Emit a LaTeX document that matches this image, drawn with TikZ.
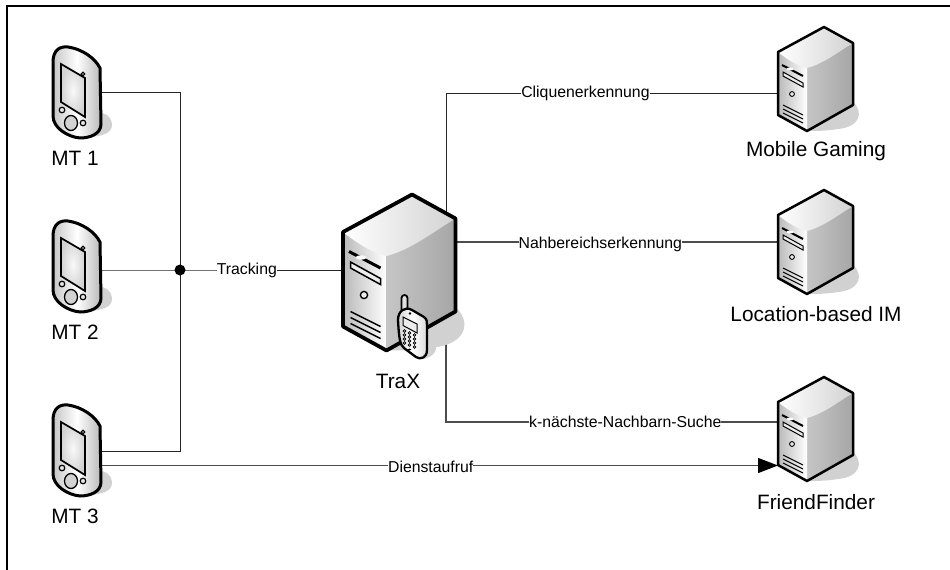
\documentclass[tikz,border=0pt]{standalone}
\usepackage{fontspec}
\setmainfont{Liberation Sans}
\usetikzlibrary{arrows.meta}
\definecolor{shad}{gray}{0.82}
\definecolor{wirec}{gray}{0.3}
\tikzset{
  x=1pt,y=-1pt,
  wire/.style={draw=wirec,line width=1.2pt},
  buswire/.style={draw=black!85,line width=.9pt},
  nmlab/.style={font=\fontsize{20.8}{24}\selectfont,inner sep=0pt},
  edgelab/.style={fill=white,font=\fontsize{15.8}{18}\selectfont,inner sep=0pt},
}
% #1 x, #2 y, #3 scale
\newcommand{\srv}[3]{%
\begin{scope}[shift={(#1,#2)},x=#3pt,y=-#3pt]
  \fill[shad] (40,70) .. controls (60,62) and (72,50) .. (75,50) .. controls (86,60) and (82,75) .. (60,77) .. controls (48,79) and (38,79) .. (29,79) -- cycle;
  \shade[left color=gray!45,middle color=white,right color=gray!70] (29,16) -- (75,-9) -- (75,53) -- (29,79) -- cycle;
  \shade[left color=gray!55,right color=white] (0,0) -- (29,16) -- (29,79) -- (0,63) -- cycle;
  \shade[left color=white,right color=gray!35] (0,0) -- (46,-25) -- (75,-9) .. controls (60,0) and (45,12) .. (29,16) .. controls (20,14) and (10,8) .. (0,0) -- cycle;
  \draw[line width=#3*2.5pt,line join=round] (0,0) -- (46,-25) -- (75,-9) -- (75,53) -- (29,79) -- (0,63) -- cycle;
  \draw[line width=#3*2pt] (4,13) -- (25,24);
  \fill[white] (12,17) ellipse (3.5 and 1.5);
  \draw[line width=#3*1pt,fill=gray!15] (5,20) -- (25,31) -- (25,35) -- (5,24) -- cycle;
  \draw[line width=#3*.9pt,fill=gray!15] (14,42) circle (2.4);
  \foreach \d in {0,4,8}{\draw[line width=#3*1pt] (5,53+\d) -- (25,63+\d);}
\end{scope}}
\newcommand{\pda}[2]{%
\begin{scope}[shift={(#1,#2)}]
  \fill[shad] (90,116) .. controls (105,108) and (112,118) .. (112,125) .. controls (112,134) and (100,137) .. (85,137) -- cycle;
  \shade[left color=gray!45,right color=gray!55,middle color=white,draw=black,line width=3pt,line join=round]
    (53,62) .. controls (53,50) and (60,46) .. (68,47) .. controls (82,49) and (95,58) .. (100,68)
    -- (101,124) .. controls (101,134) and (90,138) .. (80,138) .. controls (68,137) and (53,128) .. (53,116) -- cycle;
  \shade[inner color=gray!5,outer color=gray!35,draw=black,line width=1.7pt] (61,64) -- (85,78) -- (85,117) -- (61,102) -- cycle;
  \draw[fill=gray!50,line width=1pt] (83,74) circle (1.8);
  \draw[fill=gray!20,line width=1.2pt] (62,110) circle (2.8);
  \draw[fill=gray!20,line width=1.2pt] (83,123) circle (2.8);
  \draw[fill=gray!35,line width=1.3pt] (71,123) ellipse (6.5 and 7.5);
\end{scope}}
\begin{document}
\begin{tikzpicture}
\useasboundingbox (0,0) rectangle (950,570);
\fill[white] (0,0) rectangle (950,570);
\draw[black,line width=2.4pt] (7,570) -- (7,6) -- (950,6);
\coordinate (mt1e) at (101,92);
\coordinate (mt2e) at (101,270);
\coordinate (mt3e) at (101,451);
\coordinate (bus1) at (180,92);
\coordinate (bus3) at (180,451);
\coordinate (bus) at (180,270);
\coordinate (traxw) at (343,270);
\coordinate (traxe) at (455,242);
\coordinate (up) at (446,222);
\coordinate (upc) at (446,93);
\coordinate (dn) at (446,320);
\coordinate (dnc) at (446,422);
\coordinate (mgw) at (778,93);
\coordinate (lbw) at (778,242);
\coordinate (ffw) at (778,422);
\coordinate (mt3b) at (101,465.5);
\coordinate (ffb) at (778,465.5);
\draw[buswire] (mt1e) -- (bus1) -- (bus3) -- (mt3e);
\draw[buswire] (mt2e) -- (bus) -- (traxw);
\path (bus) -- (traxw) node[edgelab,pos=.41] (t1) {Tracking};
\node[circle,fill=black,minimum size=11pt,inner sep=0pt] (busdot) at (bus) {};
\draw[buswire] (up) -- (upc) -- (mgw) node[edgelab,pos=.42] (t2) {Cliquenerkennung};
\draw[wire] (traxe) -- (lbw) node[edgelab,pos=.45,yshift=-2pt] (t3) {Nahbereichserkennung};
\draw[wire] (dn) -- (dnc) -- (ffw) node[edgelab,pos=.54] (t4) {k-nächste-Nachbarn-Suche};
\draw[wire,-{Triangle[length=20pt,width=15pt,color=black,fill=black]}] (mt3b) -- (ffb) node[edgelab,pos=.487,yshift=-1pt] (t5) {Dienstaufruf};
\pda{0}{0}
\pda{0}{174}
\pda{0}{358}
\srv{343}{232}{1.5}
\srv{778}{52}{1}
\srv{778}{215}{1}
\srv{778}{402}{1}
\begin{scope}[shift={(320,170)}]
  \fill[shad] (100,180) -- (116,175) .. controls (118,183) and (108,190) .. (100,189) -- cycle;
  \draw[fill=gray!25,line width=1.8pt,line join=round] (81.5,140) -- (81.5,128) arc (180:360:3) -- (87.5,142) -- cycle;
  \shade[left color=gray!35,right color=gray!30,middle color=white,draw=black,line width=2.3pt,line join=round]
    (78,150) .. controls (78,141) and (85,136) .. (92,140) -- (104,147) .. controls (107,149) and (107,152) .. (107,155)
    -- (107,180) .. controls (107,188) and (100,190) .. (96,187) -- (84,178) .. controls (80,175) and (79,168) .. (78,150) -- cycle;
  \fill (90,143.5) circle (1.3);
  \draw[fill=gray!15,line width=1pt] (83,147) -- (97,154) -- (97,163) -- (83,155.5) -- cycle;
  \foreach \c in {0,1,2}{\foreach \r in {0,1,2,3}{
    \draw[line width=.7pt,fill=gray!20] (84.5+5*\c,161+4*\r+2*\c) circle (1.4);}}
  \fill (89.5,179.5) ellipse (1.8 and 1);
\end{scope}
\node[nmlab] (l1) at (75,158) {MT 1};
\node[nmlab] (l2) at (75,332) {MT 2};
\node[nmlab] (l3) at (75,516) {MT 3};
\node[nmlab] (l4) at (398,381) {TraX};
\node[nmlab] (l5) at (816,151) {Mobile Gaming};
\node[nmlab] (l6) at (816,314) {Location-based IM};
\node[nmlab] (l7) at (816,502) {FriendFinder};
\end{tikzpicture}
\end{document}
